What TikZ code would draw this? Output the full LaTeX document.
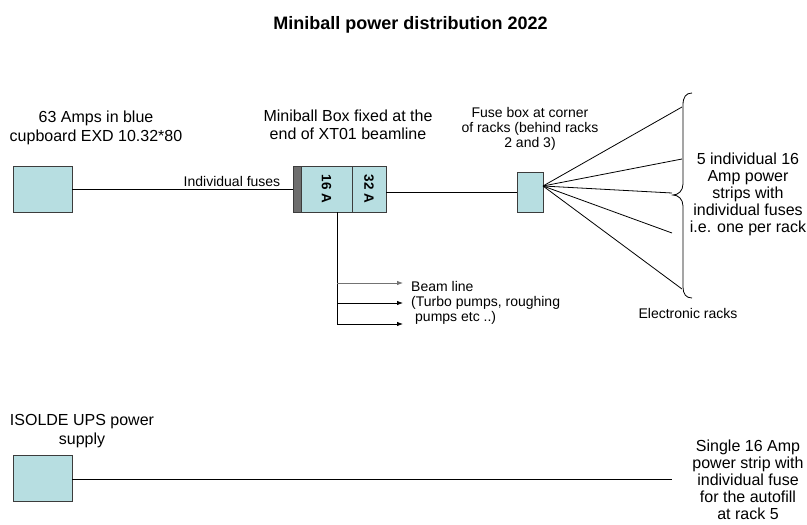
\documentclass[tikz,border=0pt]{standalone}
\usepackage{fontspec}
\setmainfont{Liberation Sans}
\usetikzlibrary{arrows.meta,calc}
\definecolor{boxfill}{RGB}{183,222,225}
\definecolor{boxline}{RGB}{60,60,60}
\definecolor{barfill}{RGB}{110,110,110}
\begin{document}
\begin{tikzpicture}[x=1pt,y=-1pt,
  box/.style={draw=boxline, fill=boxfill, line width=0.8pt, inner sep=0pt, minimum width=59pt, minimum height=46pt},
  fusebar/.style={draw=boxline, fill=barfill, line width=0.8pt, inner sep=0pt, minimum width=8pt, minimum height=46pt},
  lbl/.style={inner sep=0pt, align=center, font=\fontsize{16}{18.5}\selectfont},
  small/.style={inner sep=0pt, align=center, font=\fontsize{14}{15}\selectfont},
  wire/.style={draw=black, line width=0.8pt},
  feed/.style={wire, -{Latex[length=6pt,width=4.5pt]}}
]
\useasboundingbox (0,0) rectangle (807,525);

% title
\node[inner sep=0pt, font=\bfseries\fontsize{18}{20}\selectfont] (title) at (410.5,25) {Miniball power distribution 2022};

% boxes
\node[box] (cup) at (42.5,189) {};
\node[fusebar] (bar) at (297,189) {};
\node[box, minimum width=51pt] (b16) at (326.5,189) {\rotatebox{-90}{\bfseries\fontsize{13.5}{14}\selectfont 16 A}};
\node[box, minimum width=34pt] (b32) at (369,189) {\rotatebox{-90}{\bfseries\fontsize{13.5}{14}\selectfont 32 A}};
\node[box, minimum width=26pt, minimum height=40pt] (fuse) at (530,192) {};
\node[box] (ups) at (42.5,478) {};

% labels
\node[lbl] (cuplbl) at (96,128) {63 Amps in blue\\cupboard EXD 10.32*80};
\node[lbl] (mblbl) at (348,125) {Miniball Box fixed at the\\end of XT01 beamline};
\node[small] (fuselbl) at (530,129) {Fuse box at corner\\of racks (behind racks\\2 and 3)};
\node[small] (indiv) at (232,181) {Individual fuses};
\node[inner sep=0pt, align=center, font=\fontsize{16}{17}\selectfont] (strips) at (748,194) {5 individual 16\\Amp power\\strips with\\individual fuses\\i.e. one per rack};
\node[small] (racks) at (688,313) {Electronic racks};
\node[small, align=left, anchor=west] (beam) at (411,303) {Beam line\\(Turbo pumps, roughing\\\hspace{4pt}pumps etc ..)};
\node[lbl] (upslbl) at (82,431) {ISOLDE UPS power\\supply};
\node[inner sep=0pt, align=center, font=\fontsize{16}{17}\selectfont] (single) at (748,480) {Single 16 Amp\\power strip with\\individual fuse\\for the autofill\\at rack 5};

% connectors top
\draw[wire] (cup.east) -- (cup.east -| bar.west);
\draw[wire] (fuse.west) -- (fuse.west -| b32.east);

% fan to racks
\coordinate (fan) at (543,186);
\coordinate (r1) at (682,107);
\coordinate (r2) at (682,159);
\coordinate (r3) at (672,193);
\coordinate (r4) at (672,233);
\coordinate (r5) at (682,289);
\foreach \r in {r1,r2,r3,r4,r5} \draw[wire] (fan) -- (\r);

% brace
\draw[wire] (692,93) .. controls (686,93) and (683,97) .. (683,105) -- (683,184)
  .. controls (683,191) and (678,195) .. (673,195)
  .. controls (678,195) and (683,199) .. (683,206) -- (683,287)
  .. controls (683,294) and (686,298) .. (692,298);

% beam line feeds
\coordinate (vtop) at (337,212);
\coordinate (vbot) at (337,324);
\coordinate (e1) at (403,283);
\coordinate (e2) at (403,303);
\coordinate (e3) at (403,324);
\draw[wire] (vtop) -- (vbot);
\draw[feed, draw=black!55] (vtop |- e1) -- (e1);
\draw[feed] (vtop |- e2) -- (e2);
\draw[feed] (vbot) -- (e3);

% UPS line
\coordinate (upsend) at (672,479);
\draw[wire] (ups.east |- upsend) -- (upsend);
\end{tikzpicture}
\end{document}
